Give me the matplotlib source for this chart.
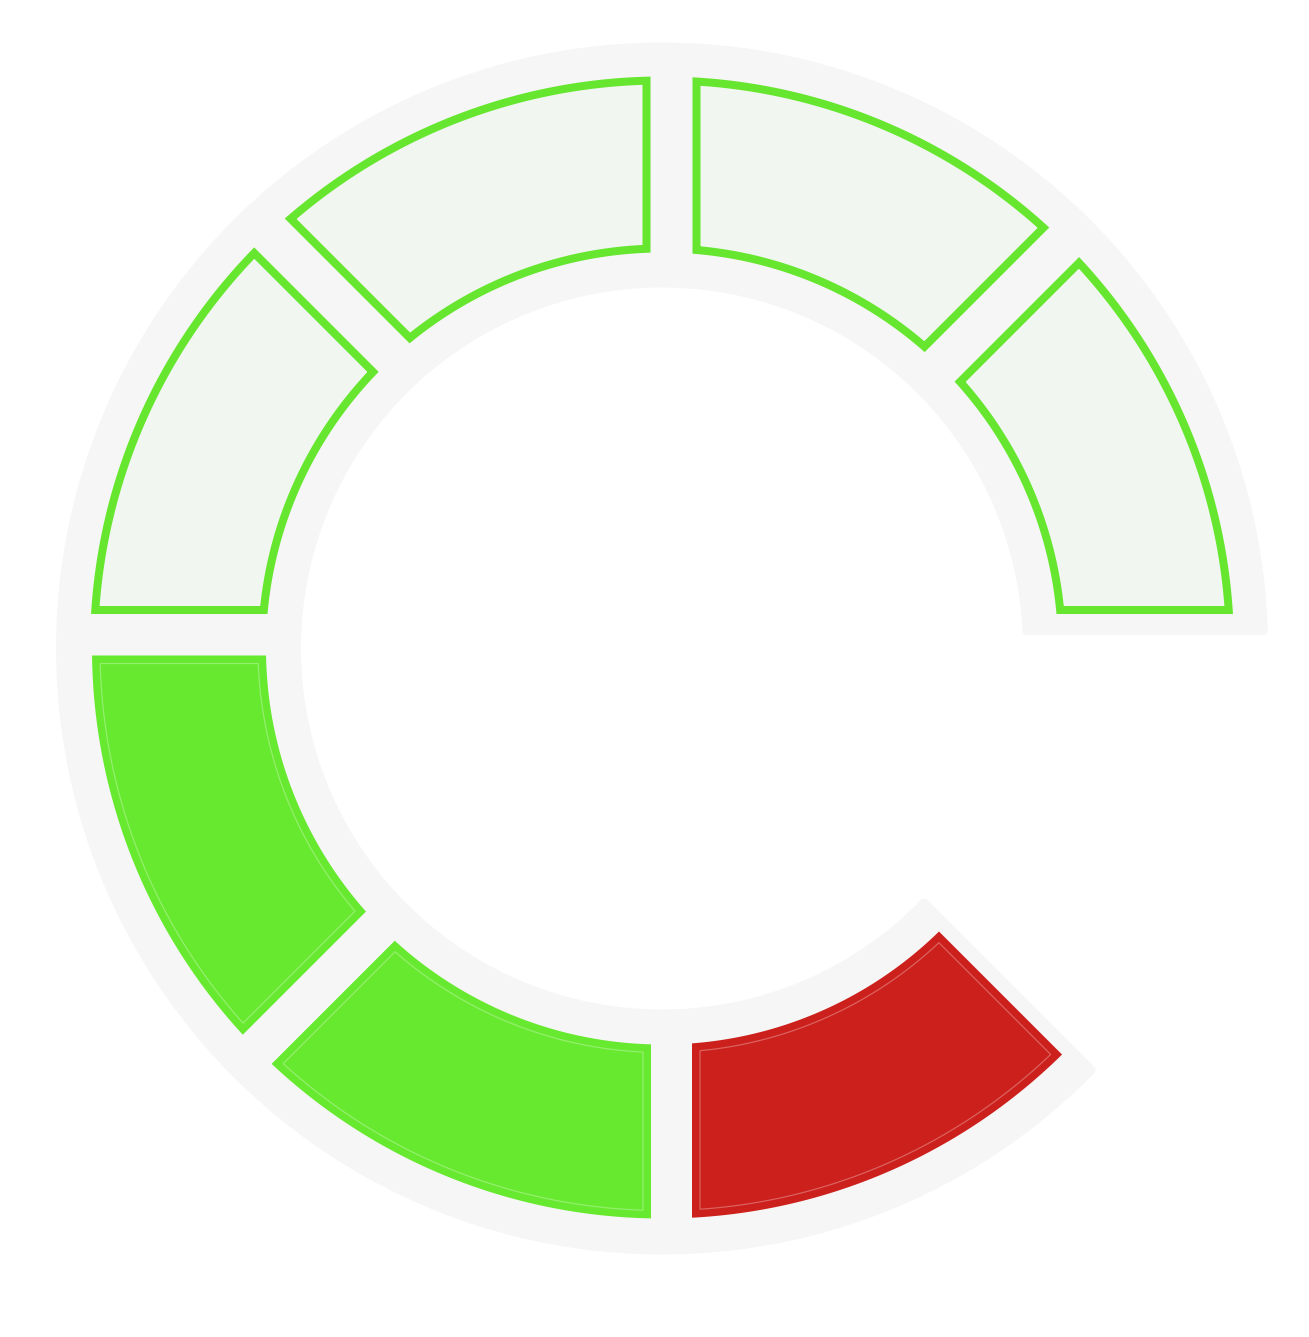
import matplotlib.pyplot as plt
import numpy as np
from matplotlib.patches import Polygon

# gauge data: 7 segments of 45 deg, counted clockwise from the bottom-right
seg_starts = [270, 225, 180, 135, 90, 45, 0]   # ccw start angle of each segment (deg)
seg_span = 45
lit_count = 3                                  # segments switched on
lit_colors = ['#cc201c', '#67e92f', '#67e92f']
off_face = '#f1f6f1'
off_edge = '#66e62e'
track_color = '#f6f6f6'
track_from, track_to = 0, 315

W, H = 1309, 1337
cx, cy = 662, 648.5          # arc centre in pixels
gx, gy = 9.5, 13.5           # where the gap lines cross (relative to centre)


def edge_point(a, s, r):
    # point where the line at angle a (through the gap centre, shifted by s) meets radius r
    u = np.array([np.cos(a), np.sin(a)])
    n = np.array([-np.sin(a), np.cos(a)])
    q = np.array([gx, gy]) + s * n
    qu = q @ u
    t = -qu + np.sqrt(qu ** 2 - q @ q + r ** 2)
    return q + t * u


def sector(a0, a1, r_in, r_out, h0, h1):
    a0, a1 = np.radians(a0), np.radians(a1)
    o0, o1 = edge_point(a0, h0, r_out), edge_point(a1, -h1, r_out)
    i0, i1 = edge_point(a0, h0, r_in), edge_point(a1, -h1, r_in)
    p0, p1 = np.arctan2(o0[1], o0[0]), np.arctan2(o1[1], o1[0])
    while p1 <= p0:
        p1 += 2 * np.pi
    q0, q1 = np.arctan2(i0[1], i0[0]), np.arctan2(i1[1], i1[0])
    while q1 <= q0:
        q1 += 2 * np.pi
    t = np.linspace(p0, p1, 200)
    s = np.linspace(q1, q0, 200)
    xs = np.concatenate([r_out * np.cos(t), r_in * np.cos(s)])
    ys = np.concatenate([r_out * np.sin(t), r_in * np.sin(s)])
    return np.column_stack([cx + xs, cy - ys])


px = 0.72  # points per pixel at dpi 100

fig = plt.figure(figsize=(W / 100, H / 100), dpi=100)
ax = fig.add_axes([0, 0, 1, 1])
ax.set_xlim(0, W)
ax.set_ylim(H, 0)
ax.axis('off')

# background track
ax.add_patch(Polygon(sector(track_from, track_to, 365, 602, 4, 10.5), closed=True,
                     facecolor=track_color, edgecolor=track_color,
                     linewidth=8 * px, joinstyle='round'))

for k, a in enumerate(seg_starts):
    if k < lit_count:
        c = lit_colors[k]
        ax.add_patch(Polygon(sector(a, a + seg_span, 396, 570, 20.5, 20.5), closed=True,
                             facecolor=c, edgecolor='none'))
        ax.add_patch(Polygon(sector(a, a + seg_span, 404, 562, 28.5, 28.5), closed=True,
                             facecolor='none', edgecolor='white', alpha=0.3,
                             linewidth=1.2 * px))
    else:
        ax.add_patch(Polygon(sector(a, a + seg_span, 400, 568, 25, 25), closed=True,
                             facecolor=off_face, edgecolor=off_edge,
                             linewidth=8 * px, joinstyle='miter'))

fig.savefig('out.png', dpi=100, facecolor='white')
